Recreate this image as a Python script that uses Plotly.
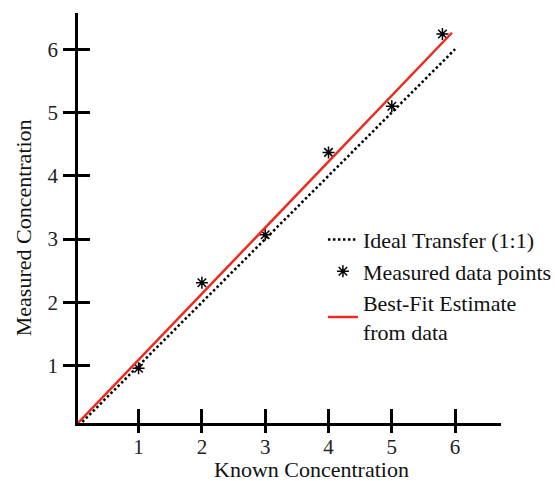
import plotly.graph_objects as go

# Known vs. measured concentration values
known = [1, 2, 3, 4, 5, 5.8]
measured = [0.96, 2.31, 3.07, 4.37, 5.10, 6.24]

# Ideal 1:1 transfer line
ideal_x = [0, 6]
ideal_y = [0, 6]

# Best-fit estimate line endpoints
fit_x = [0, 5.95]
fit_y = [0.05, 6.26]

tick_vals = [1, 2, 3, 4, 5, 6]
tick_text = ["1", "2", "3", "4", "5", "6"]

x_range = [0.043, 6.725]
y_range = [0.095, 6.572]

FONT = "Liberation Serif"
RED = "#ee2a1e"

fig = go.Figure()

fig.add_trace(go.Scatter(
    x=ideal_x, y=ideal_y, mode="lines", name="Ideal Transfer (1:1)",
    line=dict(color="black", width=2.5, dash="2.5px,2.5px"),
))
fig.add_trace(go.Scatter(
    x=known, y=measured, mode="markers", name="Measured data points",
    marker=dict(symbol="asterisk-open", size=10, color="black",
                line=dict(color="black", width=1.5)),
))
fig.add_trace(go.Scatter(
    x=fit_x, y=fit_y, mode="lines", name="Best-Fit Estimate<br>from data",
    line=dict(color=RED, width=2.5),
))
# empty trace on the overlay axes so their inner tick halves are drawn
fig.add_trace(go.Scatter(
    x=[None], y=[None], xaxis="x2", yaxis="y2", mode="markers",
    showlegend=False, hoverinfo="skip",
))

axis_common = dict(
    tickvals=tick_vals, ticktext=tick_text,
    showgrid=False, zeroline=False,
    tickcolor="black", tickwidth=2.5,
    tickfont=dict(family=FONT, size=21, color="#222"),
)

fig.update_layout(
    width=555, height=481,
    margin=dict(l=78, r=54, t=13, b=58, autoexpand=False),
    paper_bgcolor="white", plot_bgcolor="white",
    font=dict(family=FONT, size=22, color="#111"),
    xaxis=dict(range=x_range, showline=True, linecolor="black", linewidth=2.5,
               ticks="outside", ticklen=7, ticklabelstandoff=-4, **axis_common),
    yaxis=dict(range=y_range, showline=True, linecolor="black", linewidth=2.5,
               ticks="outside", ticklen=12, ticklabelstandoff=1, **axis_common),
    # overlay axes supply the inner half of each crossing tick
    xaxis2=dict(range=x_range, overlaying="x", anchor="y", side="bottom",
                showline=False, ticks="inside", ticklen=14,
                showticklabels=False, tickvals=tick_vals,
                showgrid=False, zeroline=False, tickcolor="black", tickwidth=2.5),
    yaxis2=dict(range=y_range, overlaying="y", anchor="x", side="left",
                showline=False, ticks="inside", ticklen=12,
                showticklabels=False, tickvals=tick_vals,
                showgrid=False, zeroline=False, tickcolor="black", tickwidth=2.5),
    showlegend=True,
    legend=dict(x=0.579, y=0.498, xanchor="left", yanchor="top",
                bgcolor="rgba(0,0,0,0)", font=dict(family=FONT, size=22, color="#111")),
    annotations=[
        dict(text="Known Concentration", xref="paper", yref="paper",
             x=0.553, y=-0.113, xanchor="center", yanchor="middle",
             showarrow=False, font=dict(family=FONT, size=22, color="#111")),
        dict(text="Measured Concentration", xref="paper", yref="paper",
             x=-0.13, y=0.475, xanchor="center", yanchor="middle", textangle=-90,
             showarrow=False, font=dict(family=FONT, size=22, color="#111")),
    ],
)

fig.write_html("out.html")
